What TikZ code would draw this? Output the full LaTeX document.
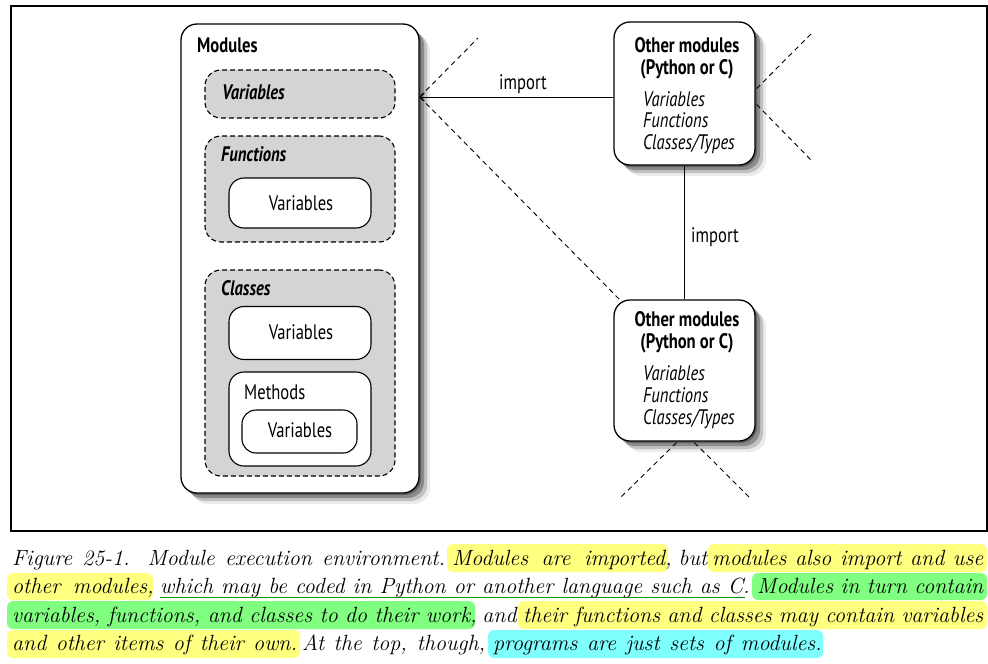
\documentclass[tikz,border=0pt]{standalone}
\usepackage{fontspec}
\setsansfont[FakeStretch=0.79]{PT Sans}
\usetikzlibrary{arrows.meta,shadows,calc}
\definecolor{hlY}{HTML}{FFFF80}
\definecolor{hlG}{HTML}{80FF80}
\definecolor{hlC}{HTML}{80FFFF}
\definecolor{ulG}{HTML}{009A00}
\definecolor{boxgray}{HTML}{D4D4D4}
\begin{document}
\begin{tikzpicture}[x=1pt,y=-1pt,
  shadowed/.style={
    drop shadow={shadow xshift=2pt,shadow yshift=-2pt,fill=black,opacity=0.30},
    drop shadow={shadow xshift=5pt,shadow yshift=-5pt,fill=black,opacity=0.28},
    drop shadow={shadow xshift=8pt,shadow yshift=-8pt,fill=black,opacity=0.18},
    drop shadow={shadow xshift=11pt,shadow yshift=-11pt,fill=black,opacity=0.08}},
  modbox/.style={draw,line width=1.3pt,fill=white,rounded corners=16pt,inner sep=0,shadowed},
  dashbox/.style={draw,line width=1.1pt,dash pattern=on 5pt off 3pt,fill=boxgray,rounded corners=16pt,inner sep=0},
  whitebox/.style={draw,line width=1.1pt,fill=white,rounded corners=15pt,inner sep=0},
  lbl/.style={inner sep=0,text height=14pt,text depth=0pt,font=\fontsize{21}{24}\selectfont\sffamily},
  conn/.style={line width=0.9pt},
  dashln/.style={line width=0.9pt,dash pattern=on 5pt off 4pt},
  captxt/.style={inner sep=0,anchor=base west,font=\fontsize{22}{26}\selectfont\itshape},
  hl/.style={rounded corners=6pt}]
\useasboundingbox (0,0) rectangle (988,664);

% frame
\node[draw,line width=1.4pt,minimum width=976,minimum height=525,inner sep=0] (frame) at (499,268.5) {};

% Modules
\node[modbox,minimum width=238,minimum height=469] (mod) at (300,258.5) {};
\node[lbl,anchor=west] (modl) at (197,45) {\bfseries Modules};

\node[dashbox,minimum width=190,minimum height=48] (vars) at (300,94) {};
\node[lbl,anchor=west] (varsl) at (222,92) {\bfseries\itshape Variables};

\node[dashbox,minimum width=190,minimum height=106] (funcs) at (300,189) {};
\node[lbl,anchor=west] (funcsl) at (221,154) {\bfseries\itshape Functions};
\node[whitebox,minimum width=142,minimum height=50] (fvars) at (300,203) {};
\node[lbl] (fvarsl) at (301,203) {Variables};

\node[dashbox,minimum width=190,minimum height=206] (cls) at (300,373) {};
\node[lbl,anchor=west] (clsl) at (221,288) {\bfseries\itshape Classes};
\node[whitebox,minimum width=142,minimum height=53] (cvars) at (300,333) {};
\node[lbl] (cvarsl) at (301,332) {Variables};
\node[whitebox,minimum width=142,minimum height=94] (meth) at (300,419) {};
\node[lbl,anchor=west] (methl) at (244,392) {Methods};
\node[whitebox,minimum width=115,minimum height=43,rounded corners=14pt] (mvars) at (299.5,431.5) {};
\node[lbl] (mvarsl) at (300,430) {Variables};

% Other modules boxes
\node[modbox,minimum width=141,minimum height=143] (o1) at (684.5,93.5) {};
\node[lbl] (o1a) at (687,45) {\bfseries Other modules};
\node[lbl] (o1b) at (687,67) {\bfseries (Python or C)};
\node[lbl,anchor=west] (o1c) at (643,99) {\itshape Variables};
\node[lbl,anchor=west] (o1d) at (643,120) {\itshape Functions};
\node[lbl,anchor=west] (o1e) at (643,142) {\itshape Classes/Types};

\node[modbox,minimum width=141,minimum height=141] (o2) at (684.5,370.5) {};
\node[lbl] (o2a) at (687,319) {\bfseries Other modules};
\node[lbl] (o2b) at (687,341) {\bfseries (Python or C)};
\node[lbl,anchor=west] (o2c) at (643,373) {\itshape Variables};
\node[lbl,anchor=west] (o2d) at (643,395) {\itshape Functions};
\node[lbl,anchor=west] (o2e) at (643,417) {\itshape Classes/Types};

% connectors
\coordinate (imp) at (mod.east |- 0,97);
\draw[conn,-{Straight Barb[length=4pt,width=8pt]}] (o1.west |- imp) -- (imp);
\node[lbl] (impl1) at (523,82) {import};
\draw[conn] (o1.south) -- (o2.north);
\node[lbl] (impl2) at (715,235) {import};

% dashed perspective lines
\coordinate (d1) at (478,38);
\draw[dashln] (imp) -- (d1);
\draw[dashln] (imp) -- ($(o2.north west)+(7,1)$);
\coordinate (r1) at (813,32);
\coordinate (r2) at (813,162);
\draw[dashln] ($(o1.east)+(1,-5)$) -- (r1);
\draw[dashln] ($(o1.east)+(1,11)$) -- (r2);
\coordinate (b1) at (620,498);
\coordinate (b2) at (750,498);
\draw[dashln] ($(o2.south)+(-8,1)$) -- (b1);
\draw[dashln] ($(o2.south)+(10,1)$) -- (b2);

% caption highlights
\fill[hlY,hl] (447,544) rectangle (668,572);
\fill[hlY,hl] (708,544) rectangle (987,572);
\fill[hlY,hl] (7,573) rectangle (153,600);
\fill[hlG,hl] (752,573) rectangle (987,600);
\fill[hlG,hl] (7,601) rectangle (475,629);
\fill[hlY,hl] (518,601) rectangle (987,629);
\fill[hlY,hl] (7,630) rectangle (300,658);
\fill[hlC,hl] (488,630) rectangle (823,658);
\draw[ulG,line width=1.6pt] (160,597.5) -- (745,597.5);

% caption text
\node[captxt] (c1a) at (12,565) {\makebox[433pt][s]{Figure 25-1. Module execution environment.}};
\node[captxt] (c1b) at (452,565) {\makebox[213pt][s]{Modules are imported}};
\node[captxt] (c1c) at (665,565) {\makebox[42pt][s]{, but}};
\node[captxt] (c1d) at (712,565) {\makebox[271pt][s]{modules also import and use}};

\node[captxt] (c2a) at (12,593) {\makebox[135pt][s]{other modules}};
\node[captxt] (c2b) at (147,593) {,};
\node[captxt] (c2c) at (160,593) {\makebox[583pt][s]{which may be coded in Python or another language such as C}};
\node[captxt] (c2d) at (743,593) {.};
\node[captxt] (c2e) at (757,593) {\makebox[226pt][s]{Modules in turn contain}};

\node[captxt] (c3a) at (12,622) {\makebox[458pt][s]{variables, functions, and classes to do their work}};
\node[captxt] (c3b) at (470,622) {\makebox[46pt][s]{, and}};
\node[captxt] (c3c) at (523,622) {\makebox[460pt][s]{their functions and classes may contain variables}};

\node[captxt] (c4a) at (12,650) {\makebox[285pt][s]{and other items of their own.}};
\node[captxt] (c4b) at (302,650) {\makebox[183pt][s]{At the top, though,}};
\node[captxt] (c4c) at (493,650) {\makebox[322pt][s]{programs are just sets of modules}};
\node[captxt] (c4d) at (815,650) {.};
\end{tikzpicture}
\end{document}
